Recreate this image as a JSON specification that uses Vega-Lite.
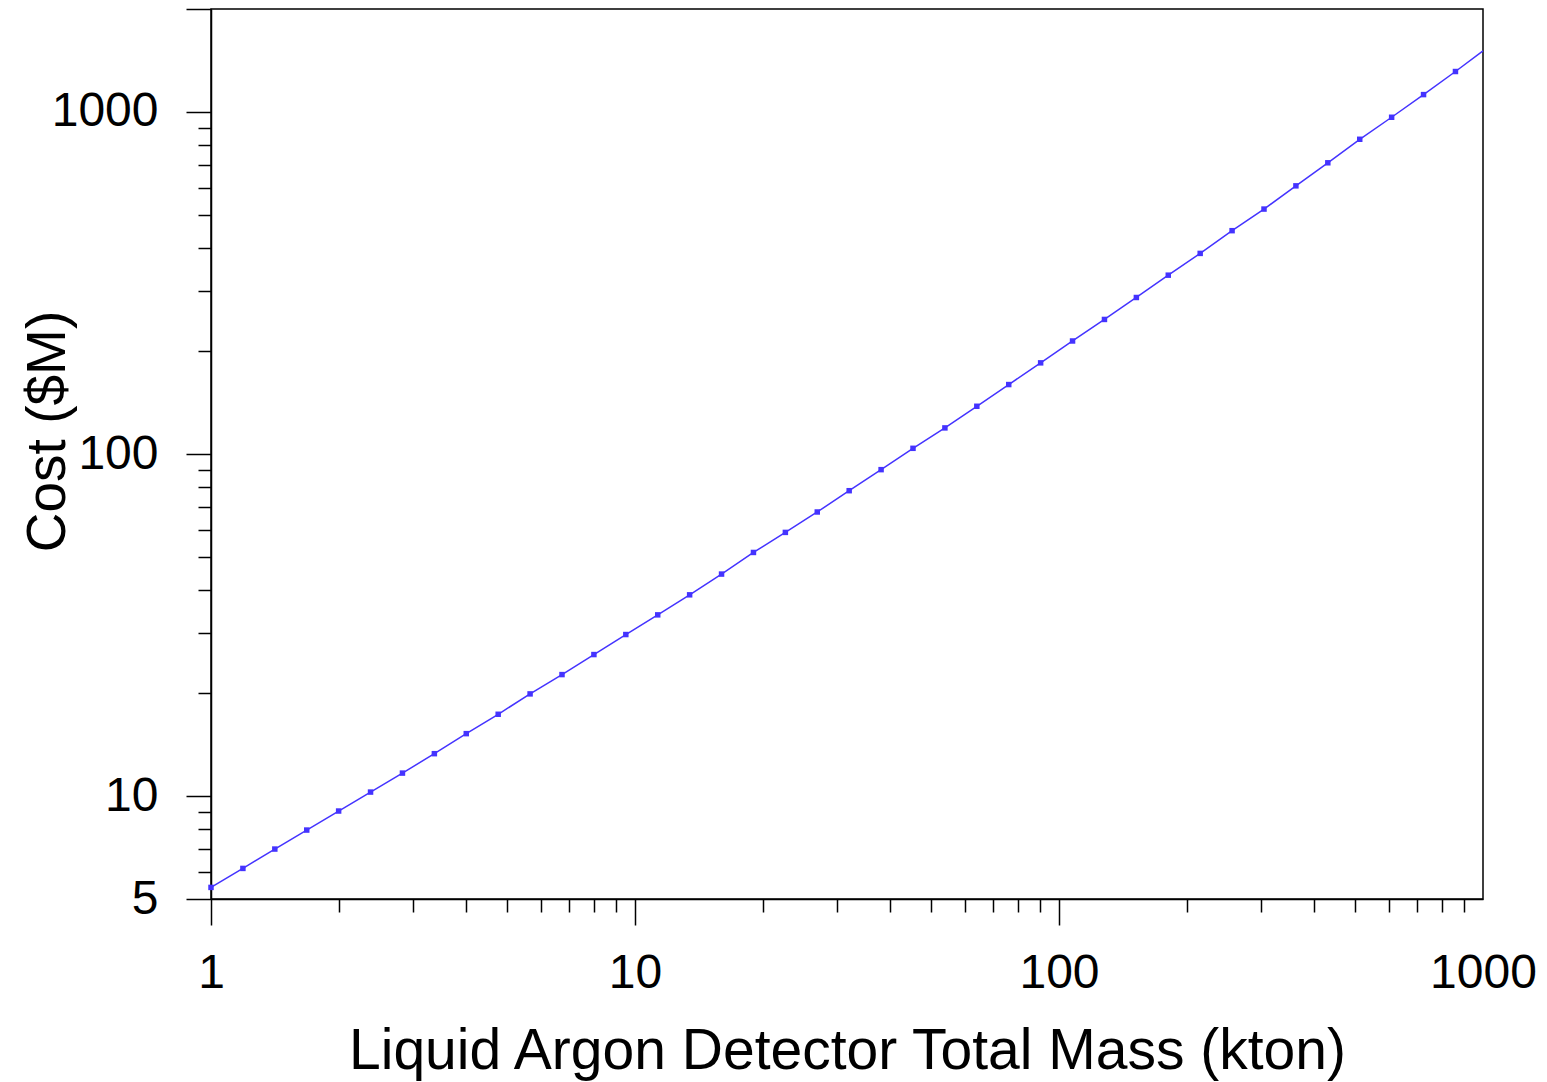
{
  "$schema": "https://vega.github.io/schema/vega-lite/v6.json",
  "width": 1272,
  "height": 890,
  "autosize": "none",
  "padding": {"left": 211, "top": 9, "right": 64, "bottom": 183},
  "background": "white",
  "config": {"view": {"stroke": "black", "strokeWidth": 1.5}},
  "data": {
    "values": [
      {"mass": 1, "cost": 5.406, "kind": "sample"},
      {"mass": 1.1892, "cost": 6.143, "kind": "sample"},
      {"mass": 1.4142, "cost": 6.998, "kind": "sample"},
      {"mass": 1.6818, "cost": 7.953, "kind": "sample"},
      {"mass": 2, "cost": 9.04, "kind": "sample"},
      {"mass": 2.3784, "cost": 10.27, "kind": "sample"},
      {"mass": 2.8284, "cost": 11.67, "kind": "sample"},
      {"mass": 3.3636, "cost": 13.3, "kind": "sample"},
      {"mass": 4, "cost": 15.22, "kind": "sample"},
      {"mass": 4.7568, "cost": 17.34, "kind": "sample"},
      {"mass": 5.6569, "cost": 19.89, "kind": "sample"},
      {"mass": 6.7272, "cost": 22.65, "kind": "sample"},
      {"mass": 8, "cost": 25.92, "kind": "sample"},
      {"mass": 9.5137, "cost": 29.66, "kind": "sample"},
      {"mass": 11.3137, "cost": 33.86, "kind": "sample"},
      {"mass": 13.4543, "cost": 38.75, "kind": "sample"},
      {"mass": 16, "cost": 44.56, "kind": "sample"},
      {"mass": 19.0273, "cost": 51.54, "kind": "sample"},
      {"mass": 22.6274, "cost": 58.99, "kind": "sample"},
      {"mass": 26.9087, "cost": 67.68, "kind": "sample"},
      {"mass": 32, "cost": 78.11, "kind": "sample"},
      {"mass": 38.0546, "cost": 90.0, "kind": "sample"},
      {"mass": 45.2548, "cost": 103.9, "kind": "sample"},
      {"mass": 53.8174, "cost": 119.2, "kind": "sample"},
      {"mass": 64, "cost": 137.9, "kind": "sample"},
      {"mass": 76.1093, "cost": 159.6, "kind": "sample"},
      {"mass": 90.5097, "cost": 184.7, "kind": "sample"},
      {"mass": 107.635, "cost": 214.0, "kind": "sample"},
      {"mass": 128, "cost": 247.4, "kind": "sample"},
      {"mass": 152.219, "cost": 286.8, "kind": "sample"},
      {"mass": 181.019, "cost": 333.3, "kind": "sample"},
      {"mass": 215.269, "cost": 385.9, "kind": "sample"},
      {"mass": 256, "cost": 449.7, "kind": "sample"},
      {"mass": 304.437, "cost": 520.1, "kind": "sample"},
      {"mass": 362.039, "cost": 608.1, "kind": "sample"},
      {"mass": 430.539, "cost": 710.2, "kind": "sample"},
      {"mass": 512, "cost": 832.0, "kind": "sample"},
      {"mass": 608.874, "cost": 965, "kind": "sample"},
      {"mass": 724.077, "cost": 1124, "kind": "sample"},
      {"mass": 861.078, "cost": 1313, "kind": "sample"},
      {"mass": 1000, "cost": 1509, "kind": "fit"}
    ]
  },
  "encoding": {
    "x": {
      "field": "mass",
      "type": "quantitative",
      "scale": {"type": "log", "domain": [1, 1000], "nice": false},
      "axis": {
        "title": "Liquid Argon Detector Total Mass (kton)",
        "values": [1, 2, 3, 4, 5, 6, 7, 8, 9, 10, 20, 30, 40, 50, 60, 70, 80, 90, 100, 200, 300, 400, 500, 600, 700, 800, 900, 1000],
        "labelExpr": "(datum.value == 1 || datum.value == 10 || datum.value == 100 || datum.value == 1000) ? toString(datum.value) : ''",
        "tickSize": {"condition": {"test": "datum.value == 1 || datum.value == 10 || datum.value == 100 || datum.value == 1000", "value": 26}, "value": 13},
        "tickOpacity": {"condition": {"test": "datum.value == 1000", "value": 0}, "value": 1},
        "labelFont": "Liberation Sans",
        "labelFontSize": 48,
        "labelColor": "black",
        "labelPadding": 24,
        "labelFlush": false,
        "labelOverlap": false,
        "labelBound": false,
        "tickColor": "black",
        "tickWidth": 1.5,
        "domainColor": "black",
        "domainWidth": 1.5,
        "grid": false,
        "titleFont": "Liberation Sans",
        "titleFontSize": 57,
        "titleFontWeight": "normal",
        "titleColor": "black",
        "titleX": 636,
        "titleY": 169,
        "titleAlign": "center",
        "titleBaseline": "alphabetic"
      }
    },
    "y": {
      "field": "cost",
      "type": "quantitative",
      "scale": {"type": "log", "domain": [5, 2000], "nice": false},
      "axis": {
        "title": "Cost ($M)",
        "values": [5, 6, 7, 8, 9, 10, 20, 30, 40, 50, 60, 70, 80, 90, 100, 200, 300, 400, 500, 600, 700, 800, 900, 1000, 2000],
        "labelExpr": "(datum.value == 5 || datum.value == 10 || datum.value == 100 || datum.value == 1000) ? toString(datum.value) : ''",
        "tickSize": {"condition": {"test": "datum.value == 5 || datum.value == 10 || datum.value == 100 || datum.value == 1000 || datum.value == 2000", "value": 25}, "value": 13},
        "labelFont": "Liberation Sans",
        "labelFontSize": 48,
        "labelColor": "black",
        "labelPadding": 28,
        "labelFlush": false,
        "labelOverlap": false,
        "labelBound": false,
        "tickColor": "black",
        "tickWidth": 1.5,
        "domainColor": "black",
        "domainWidth": 1.5,
        "grid": false,
        "titleFont": "Liberation Sans",
        "titleFontSize": 55,
        "titleFontWeight": "normal",
        "titleColor": "black",
        "titleAngle": -90,
        "titleX": -147,
        "titleY": 422,
        "titleAlign": "center",
        "titleBaseline": "alphabetic"
      }
    }
  },
  "layer": [
    {
      "mark": {"type": "line", "color": "#4433ff", "strokeWidth": 1.5},
      "encoding": {"order": {"field": "mass", "type": "quantitative"}}
    },
    {
      "transform": [{"filter": "datum.kind == 'sample'"}],
      "mark": {"type": "square", "color": "#4433ff", "filled": true, "opacity": 1, "size": 30}
    }
  ]
}
